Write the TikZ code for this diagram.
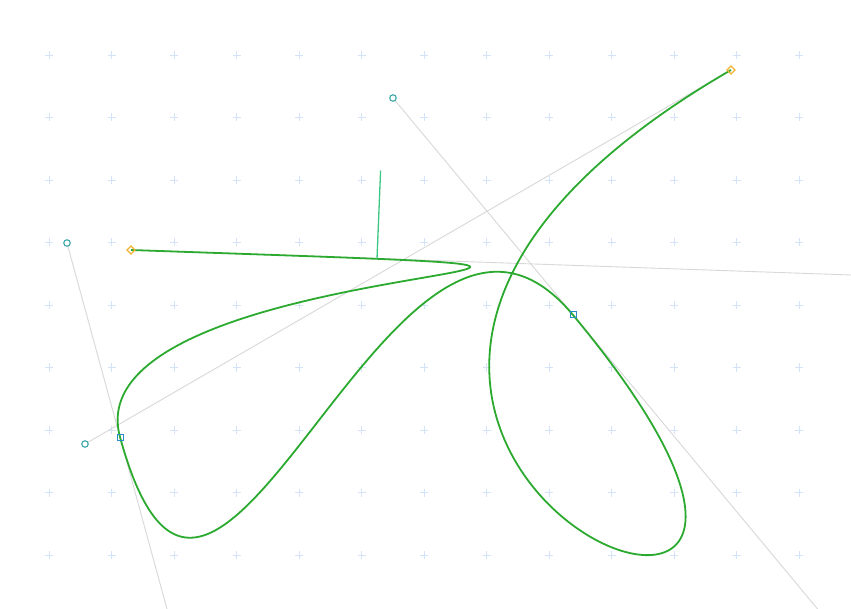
\documentclass[tikz,border=0pt]{standalone}
\usetikzlibrary{shapes.geometric}
\definecolor{gridblue}{RGB}{212,227,247}
\definecolor{curvegreen}{RGB}{44,170,48}
\definecolor{handlegray}{RGB}{216,216,216}
\definecolor{normalgreen}{RGB}{60,200,130}
\definecolor{ctrlteal}{RGB}{58,166,168}
\definecolor{knotblue}{RGB}{40,140,200}
\definecolor{endorange}{RGB}{242,180,50}
\tikzset{
  gridmark/.style={draw=gridblue, line width=0.7pt},
  handleline/.style={draw=handlegray, line width=0.9pt},
  curveline/.style={draw=curvegreen, line width=1.8pt},
  normalline/.style={draw=normalgreen, line width=1.3pt},
  ctrlmark/.style={circle, draw=ctrlteal, fill=white, line width=1.1pt, minimum size=6.5pt, inner sep=0pt},
  knotmark/.style={rectangle, draw=knotblue, line width=1pt, minimum size=6pt, inner sep=0pt},
  endmark/.style={diamond, draw=endorange, line width=1.2pt, minimum size=8.5pt, inner sep=0pt}
}
\begin{document}
\begin{tikzpicture}[x=1pt,y=-1pt]
\useasboundingbox (0,0) rectangle (851,609);
\clip (0,0) rectangle (851,609);
\fill[white] (0,0) rectangle (851,609);
% grid of plus marks
\foreach \i in {0,...,12}{
  \foreach \j in {0,...,8}{
    \path[gridmark] ({49+62.5*\i},{55+62.5*\j}) +(-4,0) -- +(4,0) +(0,-4) -- +(0,4);
  }
}
% points
\coordinate (P0) at (131,250);
\coordinate (A1) at (926,277.6);
\coordinate (A2) at (67,243);
\coordinate (P1) at (120,437);
\coordinate (B1) at (215.4,786.2);
\coordinate (B2) at (393,98);
\coordinate (P2) at (573,315);
\coordinate (C1) at (985,810.5);
\coordinate (C2) at (85,444);
\coordinate (P3) at (731,70);
\coordinate (N0) at (377,258.6);
\coordinate (N1) at (380.6,170.5);
% handles
\path[handleline] (P0) -- (A1);
\path[handleline] (A2) -- (B1);
\path[handleline] (B2) -- (C1);
\path[handleline] (C2) -- (P3);
% curve
\path[curveline] (P0) .. controls (A1) and (A2) .. (P1)
  .. controls (B1) and (B2) .. (P2)
  .. controls (C1) and (C2) .. (P3);
% normal
\path[normalline] (N0) -- (N1);
% markers
\node[ctrlmark] (c1) at (A2) {};
\node[ctrlmark] (c2) at (B2) {};
\node[ctrlmark] (c3) at (C2) {};
\node[knotmark] (k1) at (P1) {};
\node[knotmark] (k2) at (P2) {};
\node[endmark] (e0) at (P0) {};
\node[endmark] (e1) at (P3) {};
\end{tikzpicture}
\end{document}
